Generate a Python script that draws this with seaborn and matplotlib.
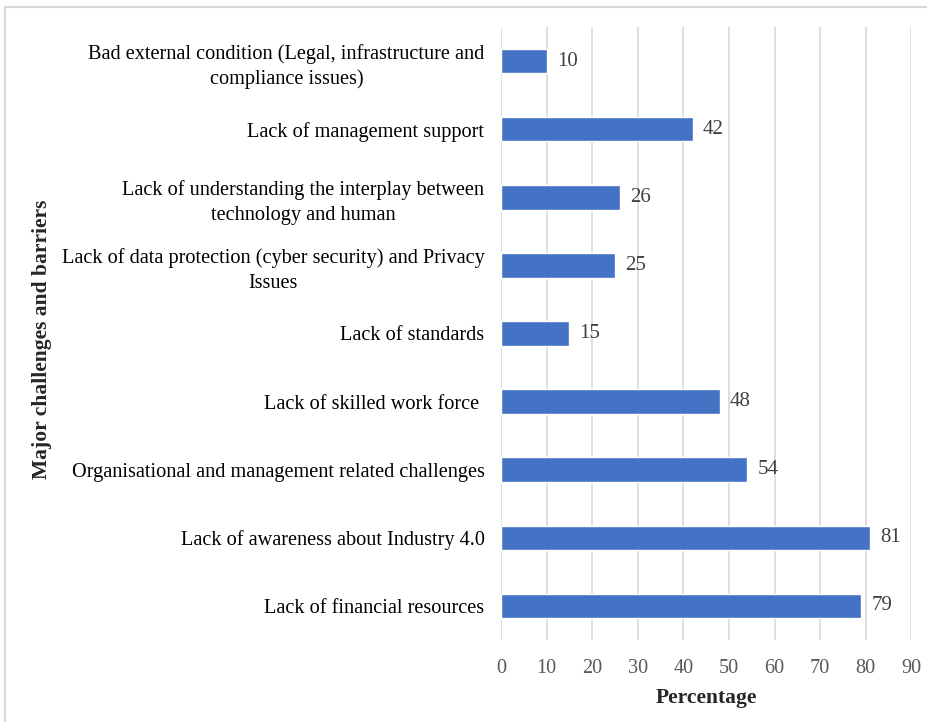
import matplotlib.pyplot as plt
import numpy as np
import pandas as pd
import seaborn as sns
from matplotlib.patches import Rectangle

challenges = [
    "Bad external condition (Legal, infrastructure and\ncompliance issues)",
    "Lack of management support",
    "Lack of understanding the interplay between\ntechnology and human",
    "Lack of data protection (cyber security) and Privacy\nIssues",
    "Lack of standards",
    "Lack of skilled work force ",
    "Organisational and management related challenges",
    "Lack of awareness about Industry 4.0",
    "Lack of financial resources",
]
percentages = [10, 42, 26, 25, 15, 48, 54, 81, 79]

df = pd.DataFrame({"challenge": challenges, "pct": percentages})

sns.set_style("white")
plt.rcParams["font.family"] = ["Liberation Serif", "DejaVu Serif"]

fig = plt.figure(figsize=(9.28, 7.22), dpi=100)
ax = fig.add_axes([0.540, 0.1136, 0.442, 0.849])

sns.barplot(data=df, x="pct", y="challenge", orient="h", color="#4472C4",
            width=0.36, saturation=1, ax=ax, zorder=3)

ax.set_xlim(0, 90)
ax.set_xticks(np.arange(0, 91, 10))
ax.xaxis.grid(True, color="#d9d9d9", linewidth=1.2, zorder=0)
ax.set_axisbelow(True)
for s in ax.spines.values():
    s.set_visible(False)
ax.tick_params(axis="both", length=0)
ax.tick_params(axis="x", labelsize=14.6, labelcolor="#595959", pad=14)
ax.tick_params(axis="y", labelsize=14.6, labelcolor="black", pad=12)
for lbl in ax.get_yticklabels():
    lbl.set_multialignment("center")
    lbl.set_linespacing(1.4)

for i, v in enumerate(percentages):
    ax.text(v + 2.2, i, str(v), va="center", ha="left", fontsize=15, color="#404040")

ax.set_xlabel("Percentage", fontsize=15.5, fontweight="bold", labelpad=7)
ax.set_ylabel("")
fig.text(0.045, 0.53, "Major challenges and barriers", rotation=90, fontsize=15.5,
         fontweight="bold", ha="center", va="center")

fig.patches.append(Rectangle((5 / 928, -0.05), 1.1, 1 - 7 / 722 + 0.05,
                             transform=fig.transFigure, fill=False,
                             edgecolor="#d9d9d9", linewidth=1.5))

fig.savefig("out.png", dpi=100)
